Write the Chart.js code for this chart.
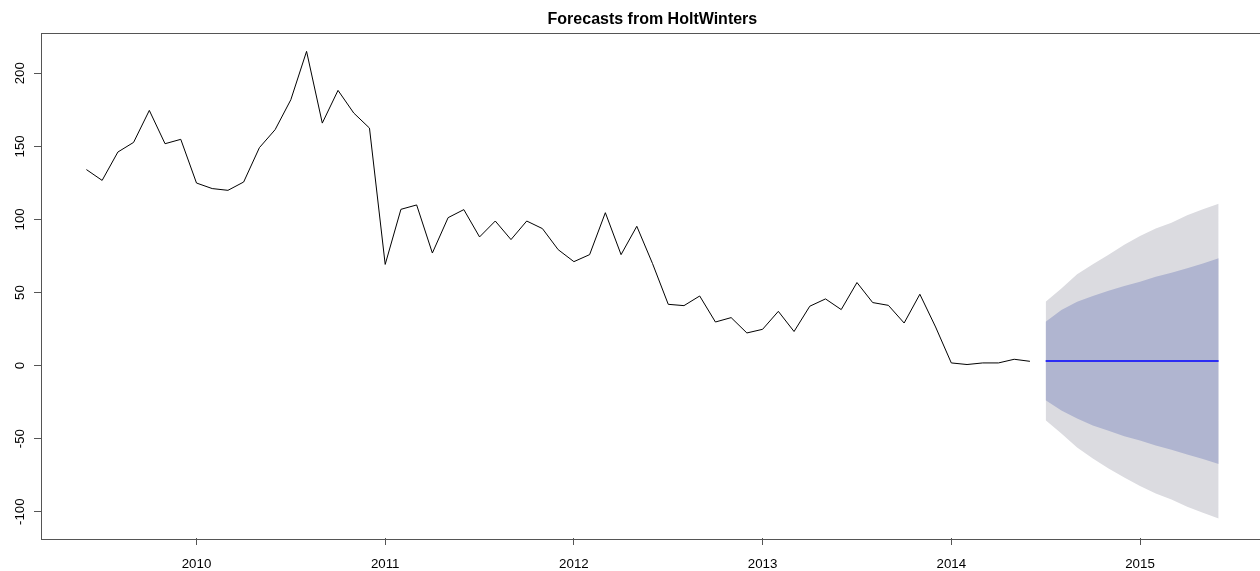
<!DOCTYPE html>
<html>
<head>
<meta charset="utf-8">
<script src="https://cdn.jsdelivr.net/npm/chart.js@4"></script>
<style>
  html, body { margin: 0; padding: 0; background: #fff; overflow: hidden; }
  #wrap { width: 1260px; height: 571px; overflow: hidden; }
</style>
</head>
<body>
<div id="wrap"><canvas id="hw" width="1270" height="571"></canvas></div>
<script>
// monthly series, first obs June 2009
const obsStart = [2009, 6];
const observed = [
  134.1, 126.7, 146.1, 152.7, 174.6, 151.8, 154.8, 124.9, 121.1, 119.9, 125.6, 149.1,
  161.4, 181.9, 215.0, 165.9, 188.3, 172.8, 162.5, 69.2, 106.9, 109.9, 77.0, 101.2,
  106.7, 88.0, 98.9, 86.2, 98.9, 93.7, 79.3, 71.1, 75.9, 104.6, 75.9, 95.3,
  69.8, 41.9, 41.0, 47.6, 29.8, 32.8, 22.3, 24.8, 37.1, 23.3, 40.6, 45.6,
  38.3, 56.8, 43.1, 41.2, 29.1, 48.8, 26.4, 1.8, 0.7, 1.8, 1.8, 4.3, 2.9
];

// forecasts, July 2014 .. June 2015
const fcStart = [2014, 7];
const fcMean  = [3.1, 3.1, 3.1, 3.1, 3.1, 3.1, 3.1, 3.1, 3.1, 3.1, 3.1, 3.1];
const hi95 = [43.7, 52.8, 62.5, 69.3, 75.8, 82.6, 88.7, 93.7, 97.8, 102.8, 106.9, 110.8];
const hi80 = [30.0, 38.0, 43.7, 47.6, 51.2, 54.4, 57.3, 60.8, 63.5, 66.5, 69.9, 73.4];
const lo80 = [-23.7, -30.8, -36.2, -41.0, -44.6, -48.3, -51.3, -54.7, -57.6, -60.8, -64.0, -67.3];
const lo95 = [-37.4, -46.5, -56.0, -63.6, -70.4, -76.6, -82.5, -87.5, -91.6, -96.6, -100.7, -104.7];

const yearTicks = [2010, 2011, 2012, 2013, 2014, 2015];
const valueTicks = [-100, -50, 0, 50, 100, 150, 200];
const titleText = 'Forecasts from HoltWinters';

function toXY(start, vals) {
  return vals.map((v, i) => ({ x: start[0] + (start[1] - 1 + i) / 12, y: v }));
}

const FONT = '"Liberation Sans", Arial, sans-serif';

const rStyle = {
  id: 'rStyle',
  afterDraw(chart) {
    const ctx = chart.ctx;
    const a = chart.chartArea;
    const xs = chart.scales.x, ys = chart.scales.y;
    ctx.save();
    // box
    ctx.strokeStyle = '#555';
    ctx.lineWidth = 1;
    ctx.strokeRect(Math.round(a.left) + 0.5, Math.round(a.top) + 0.5,
      Math.round(a.right - a.left), Math.round(a.bottom - a.top));
    // title
    ctx.fillStyle = '#000';
    ctx.font = 'bold 16px ' + FONT;
    ctx.textAlign = 'center';
    ctx.textBaseline = 'alphabetic';
    ctx.fillText(titleText, (a.left + a.right) / 2, 24);
    // x labels
    ctx.font = '13.3px ' + FONT;
    yearTicks.forEach(t => {
      ctx.fillText(String(t), xs.getPixelForValue(t), 568);
    });
    // y labels, rotated like R
    valueTicks.forEach(v => {
      ctx.save();
      ctx.translate(24, ys.getPixelForValue(v));
      ctx.rotate(-Math.PI / 2);
      ctx.fillText(String(v), 0, 0);
      ctx.restore();
    });
    ctx.restore();
  }
};

new Chart(document.getElementById('hw'), {
  type: 'line',
  data: {
    datasets: [
      { data: toXY(obsStart, observed), borderColor: '#000', borderWidth: 1, pointRadius: 0, fill: false },
      { data: toXY(fcStart, fcMean), borderColor: '#0000ff', borderWidth: 1.6, pointRadius: 0, fill: false },
      { data: toXY(fcStart, hi80), borderColor: 'transparent', borderWidth: 0, pointRadius: 0,
        fill: '+1', backgroundColor: '#b0b5d0' },
      { data: toXY(fcStart, lo80), borderColor: 'transparent', borderWidth: 0, pointRadius: 0, fill: false },
      { data: toXY(fcStart, hi95), borderColor: 'transparent', borderWidth: 0, pointRadius: 0,
        fill: '+1', backgroundColor: '#dbdbe0' },
      { data: toXY(fcStart, lo95), borderColor: 'transparent', borderWidth: 0, pointRadius: 0, fill: false }
    ]
  },
  options: {
    responsive: false,
    devicePixelRatio: 1,
    animation: false,
    layout: { padding: { top: 32.5, right: 6.2, left: 0, bottom: 0 } },
    elements: { line: { tension: 0 } },
    plugins: { legend: { display: false }, tooltip: { enabled: false }, title: { display: false } },
    scales: {
      x: {
        type: 'linear',
        min: 2009.176,
        max: 2015.656,
        afterFit: s => { s.height = 33; },
        afterBuildTicks: s => { s.ticks = yearTicks.map(v => ({ value: v })); },
        ticks: { display: false },
        border: { display: false },
        grid: { drawOnChartArea: false, drawTicks: true, tickLength: 7, color: '#555', lineWidth: 1 }
      },
      y: {
        type: 'linear',
        min: -118.0,
        max: 227.9,
        afterFit: s => { s.width = 41; },
        afterBuildTicks: s => { s.ticks = valueTicks.map(v => ({ value: v })); },
        ticks: { display: false },
        border: { display: false },
        grid: { drawOnChartArea: false, drawTicks: true, tickLength: 7, color: '#555', lineWidth: 1 }
      }
    }
  },
  plugins: [rStyle]
});
</script>
</body>
</html>
